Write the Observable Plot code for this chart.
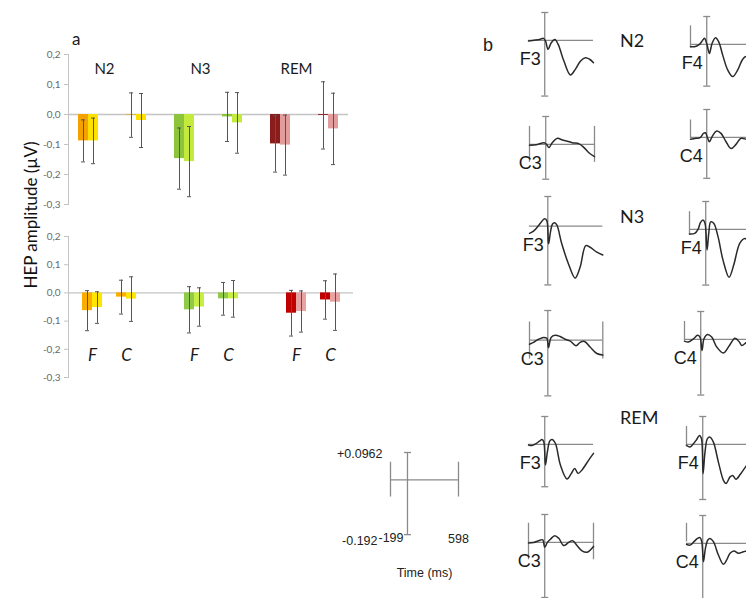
<!DOCTYPE html>
<html><head><meta charset="utf-8">
<script src="https://cdn.jsdelivr.net/npm/d3@7"></script>
<script src="https://cdn.jsdelivr.net/npm/@observablehq/plot@0.6"></script>
<style>
html,body{margin:0;padding:0;background:#fff;}
#fig{position:relative;width:746px;height:598px;overflow:hidden;background:#fff;font-family:Lato,"Open Sans",sans-serif;color:#1a1a1a;}
#fig .p{position:absolute;}
#fig svg{overflow:visible;max-width:none;background:none;}
.lbl{position:absolute;white-space:nowrap;line-height:1;}
</style></head><body><div id="fig"></div>
<script>
// ---------------- data ----------------
const stages = ["N2", "N3", "REM"];
const sites = ["F", "C"];
const hemis = ["left", "right"];
// order of values: stage -> site -> hemisphere
const topMean    = [-0.088, -0.088, -0.002, -0.020,  -0.147, -0.157, -0.008, -0.028,  -0.098, -0.102, -0.003, -0.048];
const topErr     = [ 0.070,  0.076,  0.074,  0.090,   0.102,  0.117,  0.082,  0.101,   0.094,  0.100,  0.112,  0.119];
const bottomMean = [-0.063, -0.052, -0.015, -0.022,  -0.060, -0.050, -0.021, -0.021,  -0.072, -0.066, -0.025, -0.033];
const bottomErr  = [ 0.071,  0.056,  0.060,  0.079,   0.082,  0.068,  0.058,  0.065,   0.081,  0.073,  0.068,  0.100];
const yTicks = [-0.3, -0.2, -0.1, 0, 0.1, 0.2];

// grand-average HEP waveforms: [time (ms), amplitude (µV)]
const waveN2F3 = [[-199,-0.002],[-115,0.001],[-55,0.004],[-15,0.007],[10,-0.002],[40,-0.031],[80,-0.008],[125,0.003],[165,-0.014],[235,-0.071],[315,-0.119],[375,-0.100],[440,-0.071],[500,-0.060],[550,-0.065],[598,-0.077]];
const waveN2C3 = [[-199,-0.003],[-100,0],[-20,0.006],[10,0],[40,-0.011],[80,0.006],[145,0.021],[205,0.015],[265,0.011],[325,0.006],[410,0.002],[470,-0.011],[530,-0.029],[598,-0.042]];
const waveN2F4 = [[-199,-0.008],[-150,-0.008],[-98,-0.002],[-58,0.011],[-28,0.021],[0,0.003],[33,-0.031],[65,0.003],[107,0.023],[147,0.009],[196,-0.037],[257,-0.088],[319,-0.111],[380,-0.088],[441,-0.051],[482,-0.042],[540,-0.048],[598,-0.069]];
const waveN2C4 = [[-199,-0.006],[-131,-0.003],[-82,-0.001],[-40,0.014],[-16,0.016],[12,-0.003],[33,-0.015],[65,0.002],[123,0.022],[175,0.014],[237,-0.015],[298,-0.038],[359,-0.024],[420,-0.003],[490,-0.007],[598,-0.017]];
const waveN3F3 = [[-199,-0.023],[-155,-0.016],[-109,-0.001],[-73,0.013],[-36,0.024],[-11,0.018],[8,-0.057],[29,-0.019],[51,0.007],[73,0.011],[98,0.004],[152,-0.057],[225,-0.122],[297,-0.168],[351,-0.133],[413,-0.063],[460,-0.068],[533,-0.084],[598,-0.093]];
const waveN3C3 = [[-199,-0.013],[-155,-0.007],[-101,0.003],[-47,0.009],[-11,0.006],[8,-0.024],[36,0.009],[79,0.016],[134,0.012],[188,0.003],[242,-0.002],[308,-0.018],[351,-0.007],[399,-0.004],[460,-0.022],[533,-0.043],[598,-0.048]];
const waveN3F4 = [[-199,-0.016],[-135,-0.014],[-94,0],[-65,0.023],[-33,0.032],[-9,0.021],[16,-0.071],[37,-0.014],[61,0.026],[98,0.021],[151,-0.025],[212,-0.106],[286,-0.165],[343,-0.123],[417,-0.048],[478,-0.031],[552,-0.048],[598,-0.069]];
const waveN3C4 = [[-199,-0.006],[-151,-0.009],[-89,0.002],[-40,0.014],[-9,0.008],[16,-0.038],[40,0.002],[82,0.017],[135,0.008],[196,-0.026],[278,-0.047],[352,-0.021],[420,0.004],[474,-0.009],[503,-0.021],[564,-0.010],[598,-0.007]];
const waveREMF3 = [[-199,-0.002],[-156,-0.004],[-107,0.003],[-65,0.011],[-33,0.017],[-12,0.009],[9,-0.071],[33,-0.025],[61,0.011],[89,0.017],[131,0.003],[192,-0.071],[273,-0.119],[327,-0.100],[368,-0.083],[408,-0.100],[457,-0.088],[539,-0.054],[598,-0.031]];
const waveREMC3 = [[-199,-0.002],[-135,0],[-74,0.006],[-25,0.009],[0,-0.017],[33,0],[70,0.011],[123,0.023],[172,0.014],[233,-0.011],[294,0],[343,0.006],[396,-0.011],[457,-0.029],[519,-0.034],[598,-0.014]];
const waveREMF4 = [[-199,-0.003],[-156,-0.009],[-114,0.002],[-74,0.017],[-40,0.031],[-16,0.020],[4,-0.101],[28,-0.026],[58,0.020],[89,0.025],[131,0.008],[192,-0.061],[254,-0.124],[286,-0.135],[335,-0.112],[368,-0.107],[408,-0.120],[466,-0.101],[539,-0.072],[598,-0.052]];
const waveREMC4 = [[-199,-0.003],[-156,-0.006],[-107,0.006],[-65,0.017],[-33,0.020],[-12,0.006],[9,-0.063],[33,-0.017],[61,0.011],[89,0.017],[131,0.006],[192,-0.040],[254,-0.072],[294,-0.057],[335,-0.034],[384,-0.026],[438,-0.034],[499,-0.029],[539,-0.026],[598,-0.021]];

const timeRange = [-199, 598];      // ms
const ampRange = [-0.192, 0.0962];  // µV

// ---------------- styles / layout ----------------
const topPalette = {N2: ["#F3A200", "#FFE100"], N3: ["#8CC43C", "#C3EA3C"], REM: ["#8B1C1C", "#E39C9C"]};
const bottomPalette = {N2: ["#F9AE00", "#FFE600"], N3: ["#8FCB46", "#C8EE46"], REM: ["#C00000", "#E8A2A2"]};
const fig = document.getElementById("fig");

function place(node, left, top, width) {
  const d = document.createElement("div");
  d.className = "p";
  d.style.left = left + "px"; d.style.top = top + "px"; d.style.width = width + "px";
  d.appendChild(node);
  fig.appendChild(d);
}
function label(text, left, top, css) {
  const d = document.createElement("div");
  d.className = "lbl"; d.textContent = text;
  d.style.left = left + "px"; d.style.top = top + "px";
  Object.assign(d.style, css || {});
  fig.appendChild(d);
}

function rows(mean, err) {
  const out = []; let i = 0;
  for (const stage of stages) for (const site of sites) hemis.forEach((hemi) => {
    out.push({stage, site, hemi, group: `${stage} ${site}`, mean: mean[i], lo: mean[i] - err[i], hi: mean[i] + err[i], key: `${stage}-${hemi}`});
    i++;
  });
  return out;
}
const fmt = d => (d < 0 ? "-" : "") + Math.abs(d).toFixed(1).replace(".", ",");

function barPanel({data, domain, paddingInner, paddingOuter, width, height, marginTop, marginBottom, marginRight, palette, extra}) {
  const keys = [], colors = [];
  for (const s of stages) hemis.forEach((h, i) => { keys.push(`${s}-${h}`); colors.push(palette[s][i]); });
  const marks = [
    Plot.ruleY([0], {stroke: "#c4c4c4", strokeWidth: 1.3}),
    Plot.frame({anchor: "left", stroke: "#c4c4c4"}),
    Plot.axisY({ticks: yTicks, tickFormat: fmt, tickSize: 4, tickPadding: 4, stroke: "#c4c4c4", fill: "#6a6a6a", fontSize: 10})
  ];
  hemis.forEach((h, i) => {
    const sub = data.filter(d => d.hemi === h);
    marks.push(Plot.barY(sub, {x: "group", y: "mean", fill: "key", insetLeft: i ? 10 : 0, insetRight: i ? 0 : 10}));
  });
  hemis.forEach((h, i) => {
    const sub = data.filter(d => d.hemi === h);
    marks.push(Plot.ruleX(sub, {x: "group", y1: "lo", y2: "hi", dx: i ? 5 : -5, stroke: "#555", strokeWidth: 1}));
    for (const c of ["lo", "hi"]) marks.push(Plot.tickY(sub, {x: "group", y: c, insetLeft: i ? 13 : 3, insetRight: i ? 3 : 13, stroke: "#555", strokeWidth: 1}));
  });
  marks.push(...extra);
  return Plot.plot({
    width, height, marginLeft: 68, marginRight, marginTop, marginBottom,
    style: {background: "none", fontFamily: "Lato, sans-serif", overflow: "visible", maxWidth: "none"},
    x: {type: "band", domain, paddingInner, paddingOuter, axis: null},
    y: {domain: [-0.3, 0.2], axis: null},
    color: {domain: keys, range: colors},
    marks
  });
}

// ---------------- panel a ----------------
const topRows = rows(topMean, topErr);
const topDomain = stages.flatMap(s => sites.map(x => `${s} ${x}`));
place(barPanel({
  data: topRows, domain: topDomain, paddingInner: 0.59, paddingOuter: 0.175,
  width: 360, height: 214, marginTop: 54, marginBottom: 10, marginRight: 12, palette: topPalette,
  extra: [Plot.text(stages, {x: s => `${s} F`, text: s => s, frameAnchor: "top", dy: 9, dx: 16, fontSize: 15, fill: "#1a1a1a"})]
}), 0, 0, 360);

const bottomRows = rows(bottomMean, bottomErr);
const bottomDomain = stages.flatMap((s, i) => [...sites.map(x => `${s} ${x}`), ...(i < stages.length - 1 ? [" ".repeat(i + 1)] : [])]);
place(barPanel({
  data: bottomRows, domain: bottomDomain, paddingInner: 0.424, paddingOuter: 0.317,
  width: 360, height: 207, marginTop: 36, marginBottom: 30, marginRight: 7, palette: bottomPalette,
  extra: [Plot.text(bottomRows.filter(d => d.hemi === "left"), {x: "group", text: "site", frameAnchor: "bottom", dy: -17, fontStyle: "italic", fontSize: 17, fill: "#1a1a1a"})]
}), 0, 200, 360);

label("a", 72, 30, {fontSize: "17px"});
label("HEP amplitude (µV)", 30, 215, {fontSize: "17px", transform: "translate(-50%,-50%) rotate(-90deg)", color: "#111"});

// ---------------- panel b ----------------
const hbar = {draw(ctx, size) { const r = Math.sqrt(size / Math.PI); ctx.moveTo(-r, 0); ctx.lineTo(r, 0); }};
const axisGray = "#8a8a8a";
const kxS = 65 / 797, kyS = 290;
const erpLayout = [
  {wave: waveN2F3,  name: "F3", ax: 544.5, zy: 39.5,  bottom: -0.192, bars: null},
  {wave: waveN2C3,  name: "C3", ax: 545,   zy: 143.5, bottom: -0.120, bars: [-0.062, 0.062]},
  {wave: waveN2F4,  name: "F4", ax: 706.7, zy: 44.3,  bottom: -0.144, bars: [-0.012, 0.064]},
  {wave: waveN2C4,  name: "C4", ax: 706.7, zy: 137.3, bottom: -0.141, bars: [-0.004, 0.060]},
  {wave: waveN3F3,  name: "F3", ax: 547.7, zy: 225.7, bottom: -0.190, bars: null, kx: 73.3 / 797, ky: 309},
  {wave: waveN3C3,  name: "C3", ax: 547.7, zy: 339.3, bottom: -0.180, bars: [-0.061, 0.059], kx: 73.3 / 797, ky: 309},
  {wave: waveN3F4,  name: "F4", ax: 705.3, zy: 229.3, bottom: -0.192, bars: [-0.020, 0.061]},
  {wave: waveN3C4,  name: "C4", ax: 700,   zy: 339,   bottom: -0.192, bars: [-0.004, 0.062]},
  {wave: waveREMF3, name: "F3", ax: 544.3, zy: 444.3, bottom: -0.146, bars: null},
  {wave: waveREMC3, name: "C3", ax: 544.3, zy: 541.7, bottom: -0.190, bars: [-0.060, 0.066]},
  {wave: waveREMF4, name: "F4", ax: 702,   zy: 444,   bottom: -0.190, bars: [-0.009, 0.062]},
  {wave: waveREMC4, name: "C4", ax: 702,   zy: 543.3, bottom: -0.192, bars: [0.005, 0.069]}
];
const mL = 70, mR = 10, mT = 12, mB = 56;

function erp({wave, name, ax, zy, bottom, bars, kx = kxS, ky = kyS, extra = []}) {
  const top = ampRange[1];
  const w = (timeRange[1] - timeRange[0]) * kx, h = (top - bottom) * ky;
  const marks = [
    Plot.ruleY([0], {stroke: axisGray, strokeWidth: 1.3}),
    Plot.ruleX([0], {stroke: axisGray, strokeWidth: 1.3}),
    Plot.dot([bottom, top], {x: () => 0, y: d => d, symbol: hbar, r: 3.5, stroke: axisGray, strokeWidth: 1.3})
  ];
  if (bars) marks.push(Plot.ruleX(timeRange, {y1: bars[0], y2: bars[1], stroke: axisGray, strokeWidth: 1.3}));
  if (wave) marks.push(Plot.line(wave, {x: d => d[0], y: d => d[1], curve: "catmull-rom", stroke: "#2a2a2a", strokeWidth: 1.5}));
  if (name) marks.push(Plot.text([name], {x: () => 0, y: () => 0, text: d => d, dx: -4, dy: 19, textAnchor: "end", fontSize: 18, fill: "#1a1a1a", fontFamily: "'Liberation Sans Narrow', 'Liberation Sans', Arial, sans-serif"}));
  marks.push(...extra);
  const plot = Plot.plot({
    width: mL + w + mR, height: mT + h + mB, marginLeft: mL, marginRight: mR, marginTop: mT, marginBottom: mB,
    style: {background: "none", overflow: "visible", maxWidth: "none", fontFamily: "'Liberation Sans', Arial, sans-serif"},
    x: {domain: timeRange, axis: null},
    y: {domain: [bottom, top], axis: null},
    marks
  });
  place(plot, ax - mL - (0 - timeRange[0]) * kx, zy - mT - top * ky, mL + w + mR);
}
erpLayout.forEach(erp);

// scale legend
const legendFont = {fontSize: 12.5, fill: "#222"};
erp({
  wave: null, name: null, ax: 407, zy: 479, bottom: ampRange[0], bars: [-0.060, 0.062], kx: 68 / 797, ky: 285,
  extra: [
    Plot.text([ampRange[1]], {x: () => timeRange[0], y: d => d, text: d => "+" + d, dx: -8, dy: 2, textAnchor: "end", ...legendFont}),
    Plot.text([ampRange[0]], {x: () => timeRange[0], y: d => d, text: d => "-" + Math.abs(d), dx: -13, dy: 6, textAnchor: "end", ...legendFont}),
    Plot.text([timeRange[0]], {x: () => 0, y: () => ampRange[0], text: d => String(d), dx: -4, dy: 3, textAnchor: "end", ...legendFont}),
    Plot.text([timeRange[1]], {x: d => d, y: () => ampRange[0], text: d => String(d), dy: 4, ...legendFont}),
    Plot.text(["Time (ms)"], {frameAnchor: "bottom", dy: 42, ...legendFont})
  ]
});

label("b", 483, 36, {fontSize: "18px", fontFamily: "'Liberation Sans', Arial, sans-serif"});
const stageLabelY = {N2: 40, N3: 216, REM: 417};
stages.forEach(s => label(s, 620, stageLabelY[s], {fontSize: "18px", transform: "translateY(-50%)"}));
</script></body></html>
